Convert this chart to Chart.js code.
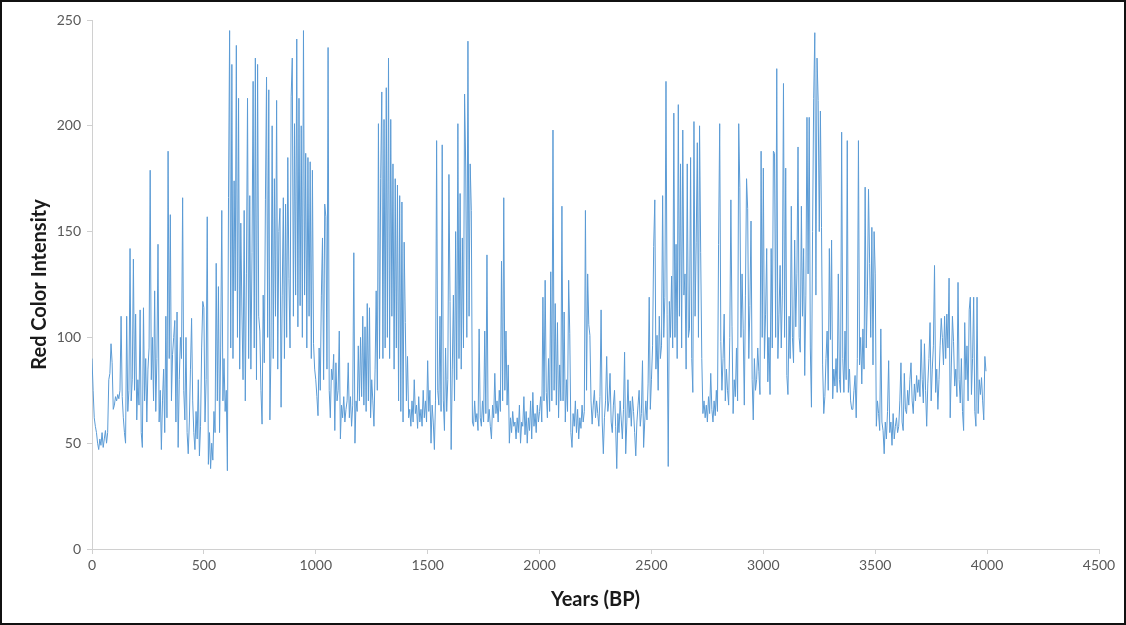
<!DOCTYPE html>
<html>
<head>
<meta charset="utf-8">
<script src="https://cdn.jsdelivr.net/npm/chart.js@4/dist/chart.umd.min.js"></script>
<style>
  html, body { margin: 0; padding: 0; background: #fff; }
  #frame { position: relative; width: 1126px; height: 625px; box-sizing: border-box; border: 2px solid #111; overflow: hidden; }
  #chart { position: absolute; left: -2px; top: -2px; }
</style>
</head>
<body>
<div id="frame"><canvas id="chart" width="1126" height="625"></canvas></div>
<script>
// sediment core, red colour intensity, one sample every 5 years BP (0 .. 3995)
const YEAR_STEP = 5;

const redIntensity = [
  // 0
  90, 75, 62, 58, 55, 50, 47, 52, 49, 55, 48, 52, 56, 50, 55, 80, 83, 97, 88, 66,
  // 100
  68, 72, 70, 73, 71, 75, 110, 72, 62, 55, 50, 110, 65, 75, 142, 70, 80, 137, 75, 111,
  // 200
  61, 80, 68, 113, 55, 48, 114, 70, 90, 60, 85, 95, 179, 80, 100, 70, 122, 65, 90, 144,
  // 300
  60, 75, 47, 70, 85, 55, 110, 62, 188, 90, 158, 70, 92, 100, 108, 60, 112, 48, 80, 100,
  // 400
  90, 166, 75, 61, 100, 55, 45, 60, 85, 109, 70, 55, 47, 65, 52, 80, 44, 58, 95, 117,
  // 500
  114, 60, 80, 157, 40, 55, 38, 50, 42, 65, 55, 135, 70, 124, 55, 95, 160, 70, 90, 65,
  // 600
  75, 37, 166, 245, 95, 229, 90, 174, 122, 238, 100, 213, 85, 154, 112, 80, 160, 70, 130, 213,
  // 700
  90, 167, 85, 140, 221, 95, 232, 80, 229, 110, 103, 75, 59, 120, 88, 165, 223, 100, 217, 61,
  // 800
  95, 200, 90, 175, 110, 212, 85, 150, 161, 67, 120, 166, 90, 163, 100, 185, 128, 95, 214, 232,
  // 900
  110, 201, 120, 241, 105, 213, 115, 200, 100, 245, 120, 187, 95, 185, 110, 183, 90, 179, 97, 85,
  // 1000
  80, 72, 63, 95, 75, 120, 147, 80, 163, 157, 85, 237, 75, 62, 85, 80, 92, 56, 88, 70,
  // 1100
  75, 103, 52, 68, 62, 72, 60, 66, 70, 88, 62, 72, 58, 68, 140, 50, 70, 65, 96, 70,
  // 1200
  100, 72, 110, 68, 105, 65, 116, 70, 114, 62, 80, 70, 58, 85, 122, 75, 201, 90, 175, 216,
  // 1300
  90, 203, 95, 218, 100, 232, 90, 203, 110, 182, 85, 175, 95, 172, 70, 167, 65, 164, 60, 145,
  // 1400
  107, 70, 91, 62, 66, 58, 70, 60, 80, 64, 68, 57, 72, 60, 66, 58, 75, 62, 70, 60,
  // 1500
  89, 65, 75, 50, 68, 60, 47, 70, 193, 75, 68, 110, 65, 191, 70, 56, 95, 65, 80, 177,
  // 1600
  117, 47, 85, 120, 70, 150, 80, 201, 90, 168, 85, 147, 95, 215, 181, 100, 240, 110, 182, 160,
  // 1700
  60, 58, 70, 60, 64, 56, 104, 62, 58, 70, 60, 103, 64, 139, 60, 66, 58, 52, 68, 62,
  // 1800
  83, 64, 70, 60, 75, 65, 136, 70, 166, 75, 103, 68, 87, 50, 62, 55, 65, 58, 60, 52,
  // 1900
  62, 55, 68, 50, 60, 58, 72, 54, 65, 50, 62, 56, 70, 52, 74, 58, 64, 55, 68, 60,
  // 2000
  65, 72, 60, 119, 70, 127, 74, 62, 90, 65, 131, 70, 198, 75, 116, 68, 107, 62, 87, 70,
  // 2100
  162, 70, 112, 60, 80, 65, 127, 102, 55, 48, 64, 58, 70, 55, 66, 52, 62, 57, 68, 60,
  // 2200
  65, 160, 75, 130, 106, 101, 70, 59, 68, 75, 62, 70, 64, 58, 72, 113, 60, 45, 62, 70,
  // 2300
  91, 65, 70, 83, 60, 55, 68, 75, 58, 38, 64, 55, 70, 61, 52, 66, 93, 45, 60, 80,
  // 2400
  62, 70, 58, 72, 65, 55, 44, 60, 68, 75, 58, 64, 89, 48, 60, 70, 61, 78, 119, 66,
  // 2500
  80, 96, 143, 165, 85, 101, 75, 110, 90, 96, 167, 100, 119, 221, 111, 39, 117, 100, 129, 95,
  // 2600
  206, 100, 144, 90, 210, 110, 182, 95, 198, 120, 130, 85, 182, 100, 104, 185, 90, 74, 202, 110,
  // 2700
  145, 192, 100, 200, 140, 90, 64, 70, 62, 68, 60, 72, 64, 83, 66, 60, 70, 63, 75, 65,
  // 2800
  144, 201, 98, 75, 90, 111, 70, 85, 75, 68, 100, 165, 105, 64, 80, 72, 95, 70, 201, 171,
  // 2900
  100, 130, 104, 68, 120, 175, 161, 90, 115, 155, 80, 61, 90, 75, 80, 95, 84, 73, 188, 100,
  // 3000
  180, 90, 111, 142, 79, 100, 73, 142, 95, 188, 187, 100, 227, 90, 111, 134, 95, 120, 220, 100,
  // 3100
  180, 82, 73, 110, 90, 162, 100, 88, 146, 105, 130, 190, 100, 93, 162, 110, 142, 82, 120, 204,
  // 3200
  130, 204, 95, 67, 150, 213, 244, 120, 232, 212, 150, 207, 152, 87, 64, 72, 90, 103, 75, 142,
  // 3300
  99, 146, 71, 85, 77, 90, 74, 130, 80, 74, 197, 90, 74, 103, 80, 193, 74, 85, 70, 66,
  // 3400
  66, 75, 82, 62, 90, 193, 87, 100, 78, 104, 85, 171, 95, 120, 170, 135, 100, 152, 87, 150,
  // 3500
  130, 58, 70, 64, 56, 104, 60, 56, 45, 60, 52, 65, 89, 55, 60, 49, 64, 52, 58, 62,
  // 3600
  55, 58, 70, 88, 60, 56, 83, 66, 64, 75, 68, 80, 88, 70, 64, 78, 70, 82, 74, 80,
  // 3700
  72, 99, 80, 69, 97, 75, 58, 78, 90, 107, 70, 85, 96, 134, 74, 85, 66, 80, 96, 109,
  // 3800
  100, 87, 110, 90, 111, 95, 128, 62, 86, 110, 98, 77, 85, 72, 126, 80, 69, 90, 65, 56,
  // 3900
  107, 80, 96, 70, 113, 119, 73, 90, 119, 65, 58, 119, 64, 80, 73, 81, 70, 61, 91, 84
];

const years = redIntensity.map((_, i) => i * YEAR_STEP);

const X_MAX = 4500;
const Y_MAX = 250;

const LINE_BLUE = "#5b9bd5";
const AXIS_GREY = "#d0d0d0";
const LABEL_GREY = "#595959";

// fixed plot area so it lines up with the original figure
const PLOT_LEFT = 92, PLOT_RIGHT = 1099, PLOT_TOP = 20, PLOT_BOTTOM = 549;

new Chart(document.getElementById("chart"), {
  type: "line",
  data: {
    datasets: [{
      label: "Red Color Intensity",
      data: years.map((y, i) => ({ x: y, y: redIntensity[i] })),
      borderColor: LINE_BLUE,
      borderWidth: 1,
      pointRadius: 0,
      tension: 0
    }]
  },
  options: {
    responsive: false,
    animation: false,
    parsing: false,
    layout: { padding: { top: PLOT_TOP, right: 1126 - PLOT_RIGHT, left: 0, bottom: 0 } },
    plugins: { legend: { display: false }, tooltip: { enabled: false } },
    scales: {
      x: {
        type: "linear",
        min: 0,
        max: X_MAX,
        afterFit: s => { s.height = 625 - PLOT_BOTTOM; },
        ticks: { stepSize: 500, color: LABEL_GREY, padding: 3, maxRotation: 0,
                 callback: v => String(v),
                 font: { family: "Lato", size: 14 } },
        grid: { drawOnChartArea: false, drawTicks: true, tickLength: 5, color: AXIS_GREY },
        border: { color: AXIS_GREY },
        title: { display: true, text: "Years (BP)", color: "#1a1a1a",
                 font: { family: "Lato", size: 20, weight: "bold" }, padding: { top: 0, bottom: 13 } }
      },
      y: {
        min: 0,
        max: Y_MAX,
        afterFit: s => { s.width = PLOT_LEFT; },
        ticks: { stepSize: 50, color: LABEL_GREY, padding: 6,
                 font: { family: "Lato", size: 14 } },
        grid: { drawOnChartArea: false, drawTicks: true, tickLength: 5, color: AXIS_GREY },
        border: { color: AXIS_GREY },
        title: { display: true, text: "Red Color Intensity", color: "#1a1a1a",
                 font: { family: "Lato", size: 20, weight: "bold" }, padding: { top: 28, bottom: 0 } }
      }
    }
  }
});
</script>
</body>
</html>
